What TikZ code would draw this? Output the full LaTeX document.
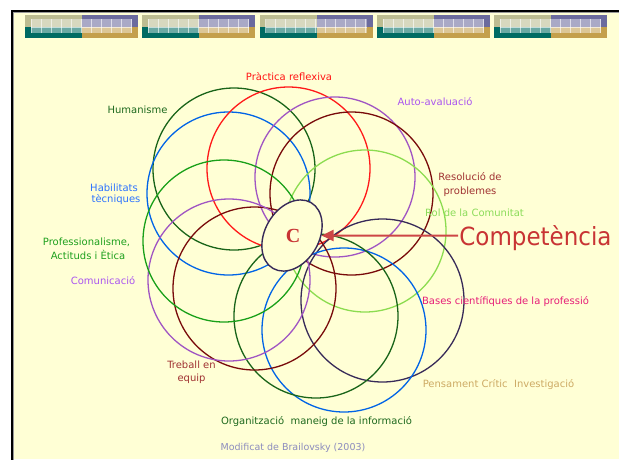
\documentclass[tikz,border=0pt]{standalone}
\usepackage{fontspec}
\setmainfont{DejaVu Sans}
\newfontfamily\serifC{Liberation Serif}
\usetikzlibrary{shapes.geometric,arrows.meta}
\definecolor{bg}{RGB}{255,255,213}
\definecolor{tOlive}{RGB}{189,189,145}
\definecolor{tPurple}{RGB}{107,107,158}
\definecolor{tTeal}{RGB}{0,107,99}
\definecolor{tGold}{RGB}{196,160,76}
\definecolor{cDGreen}{RGB}{25,100,25}
\definecolor{cBlue}{RGB}{0,100,230}
\definecolor{cRed}{RGB}{255,25,25}
\definecolor{cPurple}{RGB}{160,85,195}
\definecolor{cMaroon}{RGB}{120,10,10}
\definecolor{cLGreen}{RGB}{140,220,80}
\definecolor{cNavy}{RGB}{55,42,88}
\definecolor{cGreen}{RGB}{25,160,25}
\definecolor{tRed}{RGB}{255,20,20}
\definecolor{tDGreen}{RGB}{30,105,30}
\definecolor{tBlue}{RGB}{45,115,255}
\definecolor{tGreen}{RGB}{30,160,30}
\definecolor{tPurpleL}{RGB}{170,85,240}
\definecolor{tMaroon}{RGB}{160,50,50}
\definecolor{tGray}{RGB}{140,140,190}
\definecolor{tGoldL}{RGB}{205,170,100}
\definecolor{tMagenta}{RGB}{230,30,120}
\definecolor{tLGreen}{RGB}{140,220,90}
\definecolor{tComp}{RGB}{200,52,52}
\definecolor{tArrow}{RGB}{205,70,70}
\begin{document}
\begin{tikzpicture}[x=1pt,y=-1pt,
  circ/.style={line width=1.3pt},
  lbl/.style={font=\fontsize{10}{12}\selectfont, inner sep=0pt, anchor=base}]
\useasboundingbox (0,0) rectangle (619,459);
\fill[white] (0,0) rectangle (619,459);
\fill[bg] (12,11) rectangle (619,459);
% banner tiles
\foreach \i in {0,...,4}{
  \pgfmathsetmacro\L{25+117.3*\i}
  \fill[tOlive] (\L,15) rectangle (\L+57,27);
  \fill[tPurple] (\L+57,15) rectangle (\L+113,27);
  \fill[tTeal] (\L,27) rectangle (\L+57,38);
  \fill[tGold] (\L+57,27) rectangle (\L+113,38);
  \fill[white, fill opacity=0.42] (\L+6,19) rectangle (\L+107,33);
  \foreach \k in {0,...,10}{
    \draw[white, draw opacity=0.6, line width=0.7pt] (\L+6+10*\k,19) -- (\L+6+10*\k,33);
  }
  \draw[white, draw opacity=0.6, line width=0.7pt] (\L+6,27.5) -- (\L+107,27.5);
}
% frame
\draw[line width=2.4pt, black] (12,475) -- (12,11) -- (640,11);
\draw[line width=0.8pt, black!40] (13.6,475) -- (13.6,12.6) -- (640,12.6);
% circles
\draw[circ, cDGreen] (234,169) circle[radius=81];
\draw[circ, cBlue] (228.5,193.5) circle[radius=81.5];
\draw[circ, cRed] (288.5,168.5) circle[radius=81.5];
\draw[circ, cPurple] (335,177) circle[radius=80];
\draw[circ, cMaroon] (351.5,193.5) circle[radius=81.5];
\draw[circ, cLGreen] (365,231) circle[radius=81];
\draw[circ, cNavy] (382.5,300.5) circle[radius=81.5];
\draw[circ, cBlue] (344,330) circle[radius=82];
\draw[circ, cDGreen] (316,316) circle[radius=82];
\draw[circ, cMaroon] (254.5,288.5) circle[radius=81.5];
\draw[circ, cPurple] (229,280) circle[radius=81];
\draw[circ, cGreen] (224,241) circle[radius=81];
% central ellipse
\node[ellipse, draw=cNavy, fill=bg, line width=1.4pt, minimum width=76pt,
      minimum height=54pt, inner sep=0pt, rotate=60] (C) at (292,235.5) {};
\node[font=\serifC\bfseries\fontsize{20}{20}\selectfont, text=tComp, inner sep=0pt]
      (Clbl) at (293,236) {C};
% labels
\node[lbl, text=tRed] (prac) at (289,80) {Pràctica reflexiva};
\node[lbl, text=tDGreen] (hum) at (137.5,113.5) {Humanisme};
\node[lbl, text=tBlue] (hab1) at (114,191) {Habilitats};
\node[lbl, text=tBlue] (hab2) at (116,202.5) {tècniques};
\node[lbl, text=tGreen] (pro1) at (86.5,245) {Professionalisme,};
\node[lbl, text=tGreen] (pro2) at (88,259) {Actituds i Ètica};
\node[lbl, text=tPurpleL] (com) at (103,284) {Comunicació};
\node[lbl, text=tMaroon] (tre1) at (191.5,368.5) {Treball en};
\node[lbl, text=tMaroon] (tre2) at (191.5,381.5) {equip};
\node[lbl, text=tDGreen] (org) at (316.5,424) {Organització\ \ maneig de la informació};
\node[lbl, text=tGray, font=\fontsize{9.5}{11}\selectfont] (mod) at (293,450) {Modificat de Brailovsky (2003)};
\node[lbl, text=tGoldL] (pen) at (498.5,387) {Pensament Crític\ \ Investigació};
\node[lbl, text=tMagenta] (bas) at (505.5,304) {Bases científiques de la professió};
\node[lbl, text=tLGreen] (rol) at (474.5,216) {Rol de la Comunitat};
\node[lbl, text=tMaroon] (res1) at (470,180) {Resolució de};
\node[lbl, text=tMaroon] (res2) at (470,194.5) {problemes};
\node[lbl, text=tPurpleL] (auto) at (435,105.5) {Auto-avaluació};
\node[font=\fontsize{25}{25}\selectfont, text=tComp, inner sep=1pt, anchor=base]
      (comp) at (535.5,245.5) {\scalebox{0.92}[1]{Competència}};
% arrow
\draw[line width=2pt, tArrow, -{Triangle[length=12pt,width=11pt]}]
      (comp.west |- C.center) -- (C);
\end{tikzpicture}
\end{document}
